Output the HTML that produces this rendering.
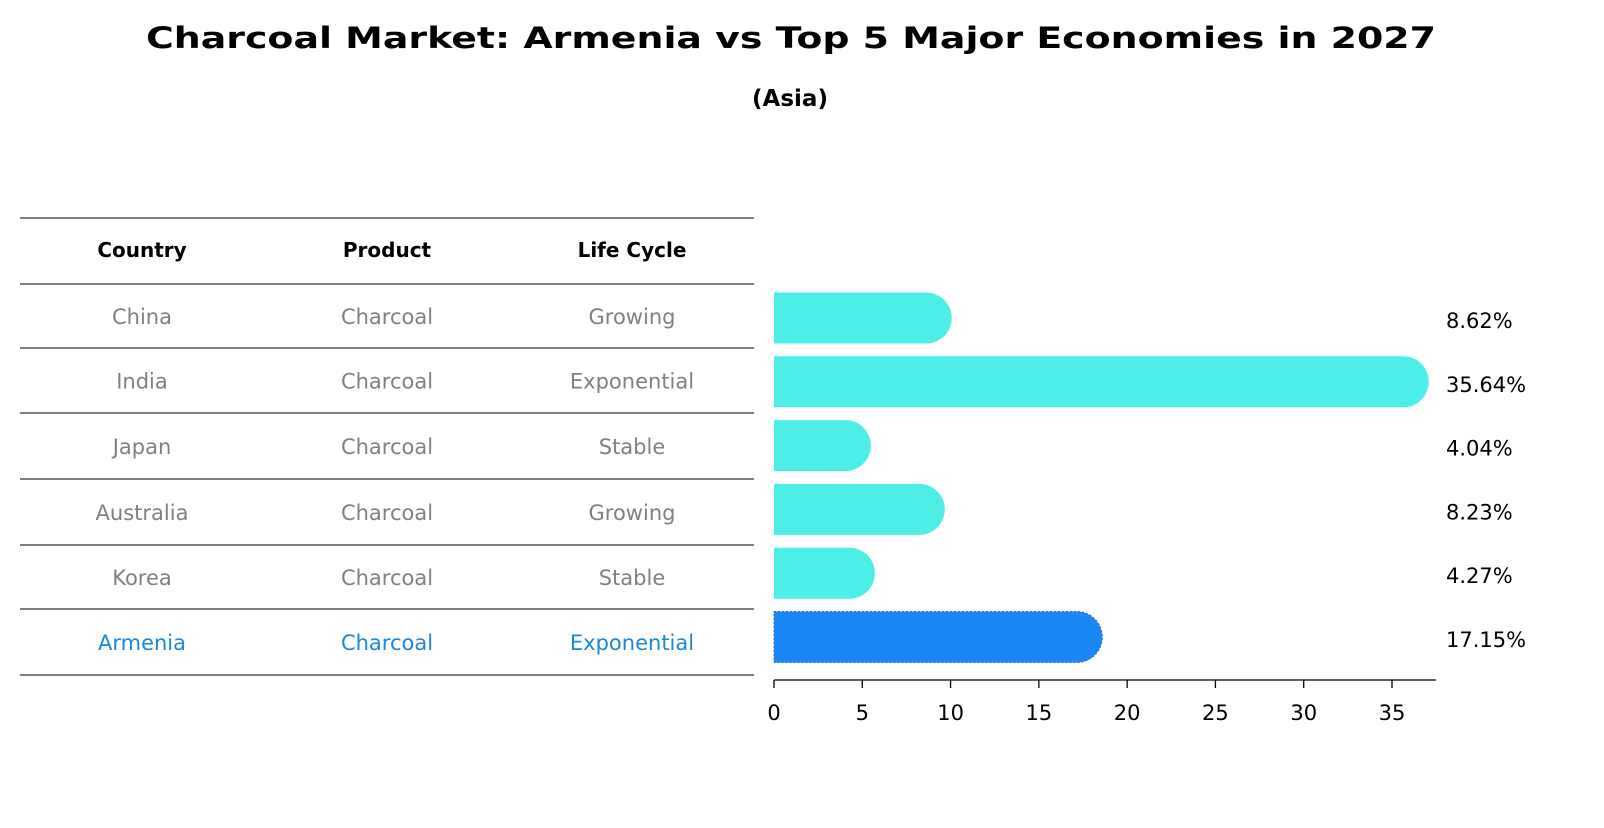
<!DOCTYPE html>
<html><head><meta charset="utf-8"><style>
body{margin:0;background:#fff;}
svg text{font-family:"DejaVu Sans","Liberation Sans",sans-serif;}
</style></head><body>
<svg id="c" width="1604" height="823" xmlns="http://www.w3.org/2000/svg">
<text x="791" y="48" text-anchor="middle" font-size="29" font-weight="bold" textLength="1290" lengthAdjust="spacingAndGlyphs">Charcoal Market: Armenia vs Top 5 Major Economies in 2027</text>
<text x="790" y="106" text-anchor="middle" font-size="23" font-weight="bold">(Asia)</text>
<g id="table"></g>
<g id="bars"></g>
</svg>
<script>
const countries=["China","India","Japan","Australia","Korea","Armenia"];
const products=["Charcoal","Charcoal","Charcoal","Charcoal","Charcoal","Charcoal"];
const lifeCycles=["Growing","Exponential","Stable","Growing","Stable","Exponential"];
const values=[8.62,35.64,4.04,8.23,4.27,17.15];
const valueLabels=["8.62%","35.64%","4.04%","8.23%","4.27%","17.15%"];
const ticks=[0,5,10,15,20,25,30,35];

const NS="http://www.w3.org/2000/svg";
function mk(tag,attrs,parent){const e=document.createElementNS(NS,tag);for(const k in attrs)e.setAttribute(k,attrs[k]);parent.appendChild(e);return e;}
const x0=774,x35=1392;
function xs(v){return x0+(x35-x0)*v/35;}
function yc(i){return 318+i*63.8;}

const tbl=document.getElementById('table');
const lines=[218,284,348,413,479,545,609,675];
lines.forEach(y=>{const l=mk('line',{x1:20,x2:754,y1:y,y2:y,stroke:'#000','stroke-width':1},tbl);

});
const colX=[142,387,632];
["Country","Product","Life Cycle"].forEach((h,j)=>{const t=mk('text',{x:colX[j],y:257,'text-anchor':'middle','font-size':20,'font-weight':'bold'},tbl);t.textContent=h;

});
countries.forEach((c,i)=>{
 const col=i===countries.length-1?'#1a87d8':'#808080';
 [c,products[i],lifeCycles[i]].forEach((v,j)=>{
  const t=mk('text',{x:colX[j],y:(lines[i+1]+lines[i+2])/2+8,'text-anchor':'middle','font-size':21,fill:col},tbl);t.textContent=v;
  
  
 });
});

const g=document.getElementById('bars');
const h=51,r=25.5;
values.forEach((v,i)=>{
 const last=i===values.length-1;
 const xe=xs(v),y=yc(i)-h/2;
 const d=`M${x0},${y} H${xe} A${r},${r} 0 0 1 ${xe},${y+h} H${x0} Z`;
 const p=mk('path',{d:d,fill:last?'#1a87f5':'#4deee8'},g);
 if(last){p.setAttribute('stroke','#2f6fd0');p.setAttribute('stroke-dasharray','2,2');p.setAttribute('stroke-width','1');}
 
 
 const t=mk('text',{x:1446,y:yc(i)+10,'font-size':21},g);t.textContent=valueLabels[i];
 
 
});
const ax=mk('line',{x1:x0,x2:1436,y1:680,y2:680,stroke:'#000','stroke-width':1.3},g);


ticks.forEach(tv=>{
 const tl=mk('line',{x1:xs(tv),x2:xs(tv),y1:680,y2:688,stroke:'#000','stroke-width':1.3},g);
 
 
 const t=mk('text',{x:xs(tv),y:720,'text-anchor':'middle','font-size':21},g);t.textContent=tv;
 
 
});
</script>
</body></html>
